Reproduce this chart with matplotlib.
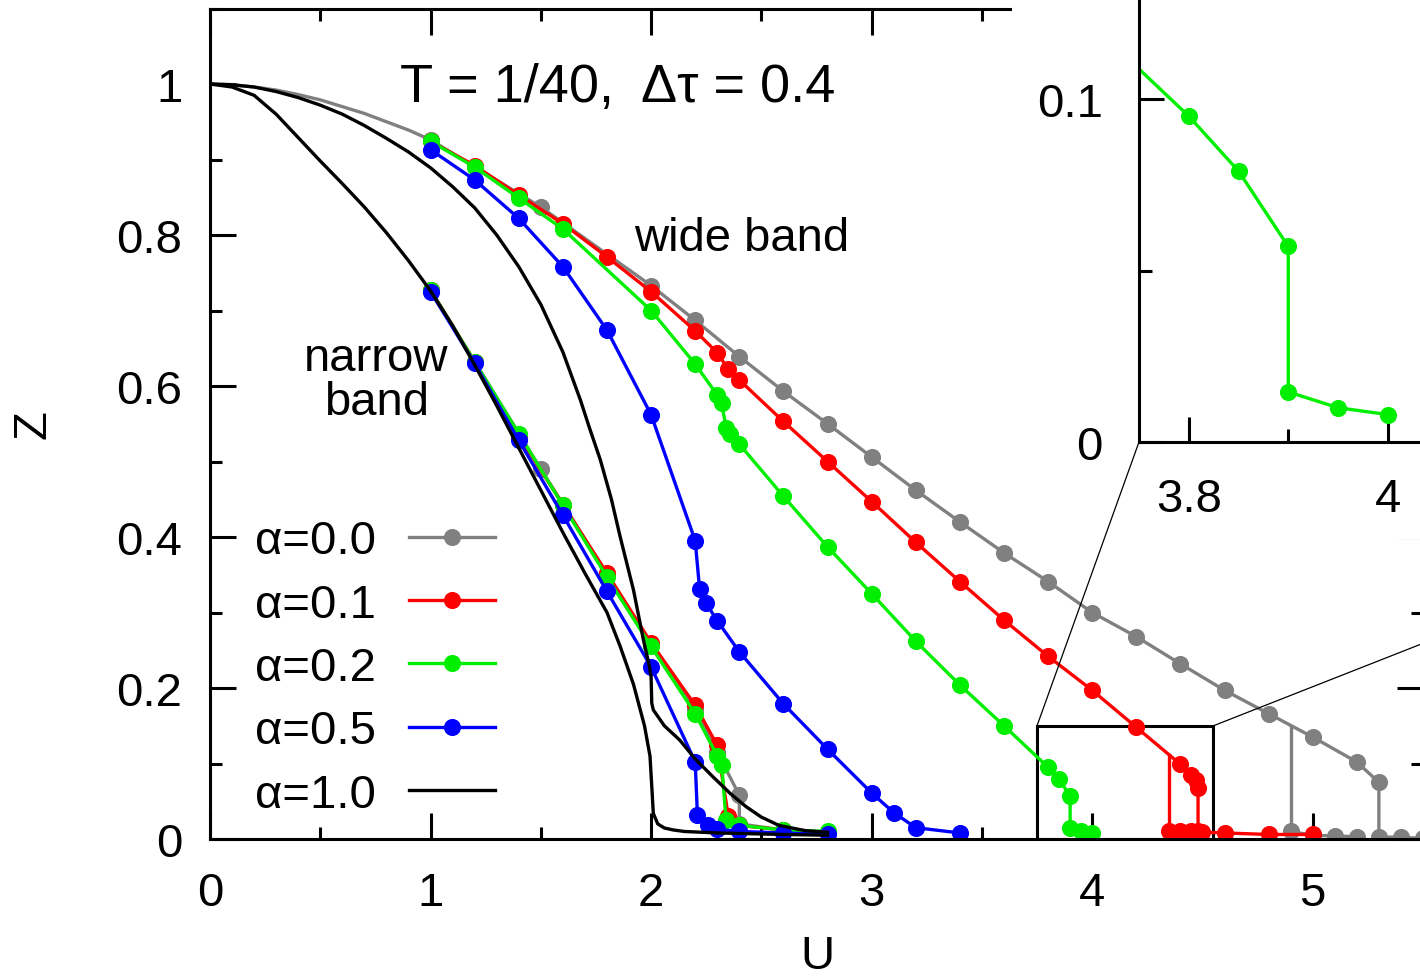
import matplotlib
matplotlib.use("Agg")
import matplotlib.pyplot as plt
from matplotlib.patches import Rectangle, ConnectionPatch
from matplotlib.ticker import MultipleLocator, FormatStrFormatter, FuncFormatter

plt.rcParams['font.family'] = ['Liberation Sans', 'DejaVu Sans']

# ---- data ----
# alpha = 0.0 (grey): smooth part below U=1, then markers
a00_low_u = [0.0, 0.1, 0.2, 0.3, 0.4, 0.5, 0.6, 0.7, 0.8, 0.9, 1.0]
a00_low_z = [1.0, 0.999, 0.996, 0.992, 0.986, 0.979, 0.970, 0.961, 0.950,
             0.939, 0.926]
a00_wide_u = [1.0, 1.5, 2.0, 2.2, 2.4, 2.6, 2.8, 3.0, 3.2, 3.4, 3.6, 3.8, 4.0,
              4.2, 4.4, 4.6, 4.8, 5.0, 5.2, 5.3, 5.3, 5.4, 5.5]
a00_wide_z = [0.926, 0.837, 0.733, 0.687, 0.639, 0.593, 0.550, 0.506, 0.462,
              0.420, 0.379, 0.341, 0.300, 0.268, 0.232, 0.197, 0.166, 0.135,
              0.102, 0.075, 0.003, 0.002, 0.001]
a00_ins_u = [5.2, 5.1, 5.0, 4.9]      # insulating branch (down sweep)
a00_ins_z = [0.003, 0.004, 0.005, 0.010]
a00_back_z = 0.150                    # where the 4.9 jump meets the metallic branch
a00_narrow_u = [1.0, 1.5, 2.0, 2.2, 2.3, 2.4, 2.4, 2.6, 2.8]
a00_narrow_z = [0.727, 0.490, 0.258, 0.172, 0.115, 0.058, 0.020, 0.012, 0.009]

# alpha = 0.1 (red)
a01_wide_u = [1.0, 1.2, 1.4, 1.6, 1.8, 2.0, 2.2, 2.3, 2.35, 2.4, 2.6, 2.8, 3.0,
              3.2, 3.4, 3.6, 3.8, 4.0, 4.2, 4.4, 4.45, 4.47, 4.48, 4.48, 4.5,
              4.6, 4.8, 5.0]
a01_wide_z = [0.924, 0.892, 0.853, 0.815, 0.771, 0.725, 0.673, 0.644, 0.622,
              0.608, 0.553, 0.500, 0.447, 0.393, 0.341, 0.290, 0.242, 0.197,
              0.148, 0.099, 0.085, 0.078, 0.068, 0.010, 0.009, 0.008, 0.006,
              0.006]
a01_ins_u = [4.45, 4.4, 4.35]
a01_ins_z = [0.010, 0.010, 0.011]
a01_back_z = 0.111
a01_narrow_u = [1.0, 1.2, 1.4, 1.6, 1.8, 2.0, 2.2, 2.3, 2.35, 2.4, 2.6, 2.8]
a01_narrow_z = [0.727, 0.632, 0.534, 0.443, 0.352, 0.260, 0.177, 0.124, 0.030,
                0.018, 0.012, 0.009]

# alpha = 0.2 (green)
a02_wide_u = [1.0, 1.2, 1.4, 1.6, 2.0, 2.2, 2.3, 2.32, 2.34, 2.36, 2.4, 2.6,
              2.8, 3.0, 3.2, 3.4, 3.6, 3.8, 3.85, 3.9, 3.9, 3.95, 4.0]
a02_wide_z = [0.924, 0.890, 0.849, 0.808, 0.700, 0.629, 0.588, 0.577, 0.545,
              0.537, 0.523, 0.454, 0.387, 0.325, 0.262, 0.204, 0.150, 0.095,
              0.079, 0.057, 0.0146, 0.010, 0.008]
a02_narrow_u = [1.0, 1.2, 1.4, 1.6, 1.8, 2.0, 2.2, 2.3, 2.32, 2.34, 2.4, 2.6, 2.8]
a02_narrow_z = [0.727, 0.632, 0.537, 0.442, 0.347, 0.255, 0.166, 0.110, 0.098,
                0.025, 0.018, 0.012, 0.010]

# alpha = 0.5 (blue)
a05_wide_u = [1.0, 1.2, 1.4, 1.6, 1.8, 2.0, 2.2, 2.22, 2.25, 2.3, 2.4, 2.6,
              2.8, 3.0, 3.1, 3.2, 3.4]
a05_wide_z = [0.913, 0.873, 0.822, 0.758, 0.674, 0.562, 0.395, 0.331, 0.312,
              0.289, 0.248, 0.179, 0.119, 0.061, 0.035, 0.015, 0.008]
a05_narrow_u = [1.0, 1.2, 1.4, 1.6, 1.8, 2.0, 2.2, 2.21, 2.26, 2.3, 2.4, 2.6, 2.8]
a05_narrow_z = [0.725, 0.630, 0.528, 0.429, 0.328, 0.228, 0.102, 0.032, 0.019,
                0.013, 0.010, 0.008, 0.006]

# alpha = 1.0 (black), lines only
a10_wide_u = [0.0, 0.1, 0.2, 0.3, 0.4, 0.5, 0.6, 0.7, 0.8, 0.9, 1.0, 1.1, 1.2,
              1.3, 1.4, 1.5, 1.6, 1.68, 1.72, 1.77, 1.82, 1.86, 1.92, 1.965,
              1.99, 2.0, 2.003, 2.01, 2.06, 2.13, 2.2, 2.28, 2.36, 2.43, 2.5,
              2.58, 2.7, 2.8]
a10_wide_z = [1.0, 0.999, 0.996, 0.990, 0.982, 0.972, 0.960, 0.945, 0.928,
              0.910, 0.889, 0.864, 0.836, 0.800, 0.758, 0.708, 0.645, 0.581,
              0.545, 0.502, 0.450, 0.400, 0.330, 0.264, 0.232, 0.215, 0.180,
              0.171, 0.150, 0.131, 0.106, 0.0825, 0.060, 0.043, 0.029, 0.018,
              0.011, 0.009]
a10_narrow_u = [0.0, 0.1, 0.2, 0.3, 0.4, 0.5, 0.6, 0.7, 0.8, 0.9, 1.0, 1.1,
                1.2, 1.3, 1.4, 1.5, 1.6, 1.7, 1.8, 1.86, 1.92, 1.97, 1.995,
                2.005, 2.01, 2.03, 2.06, 2.1, 2.15, 2.3, 2.6, 2.8]
a10_narrow_z = [1.0, 0.996, 0.985, 0.960, 0.929, 0.898, 0.868, 0.837, 0.803,
                0.766, 0.726, 0.680, 0.628, 0.574, 0.518, 0.462, 0.406, 0.352,
                0.300, 0.255, 0.205, 0.150, 0.110, 0.060, 0.034, 0.020, 0.0146,
                0.012, 0.010, 0.008, 0.006, 0.005]

labels = ['α=0.0', 'α=0.1', 'α=0.2', 'α=0.5', 'α=1.0']
colors = ['#808080', '#ff0000', '#00ee00', '#0000ff', '#000000']

LW = 2.4
MS = 11.3


def draw(a):
    """Draw every curve into axes a, return one handle per alpha."""
    kw = dict(lw=LW, marker='o', ms=MS)
    c = colors
    # alpha = 0.0
    a.plot(a00_low_u, a00_low_z, color=c[0], lw=LW)
    h0, = a.plot(a00_wide_u, a00_wide_z, color=c[0], **kw)
    a.plot(a00_ins_u, a00_ins_z, color=c[0], **kw)
    a.plot([a00_ins_u[-1], a00_ins_u[-1]], [a00_ins_z[-1], a00_back_z],
           color=c[0], lw=LW)
    a.plot(a00_narrow_u, a00_narrow_z, color=c[0], **kw)
    # alpha = 0.1
    h1, = a.plot(a01_wide_u, a01_wide_z, color=c[1], **kw)
    a.plot(a01_ins_u, a01_ins_z, color=c[1], **kw)
    a.plot([a01_ins_u[-1], a01_ins_u[-1]], [a01_ins_z[-1], a01_back_z],
           color=c[1], lw=LW)
    a.plot(a01_narrow_u, a01_narrow_z, color=c[1], **kw)
    # alpha = 0.2
    h2, = a.plot(a02_wide_u, a02_wide_z, color=c[2], **kw)
    a.plot(a02_narrow_u, a02_narrow_z, color=c[2], **kw)
    # alpha = 0.5
    h3, = a.plot(a05_wide_u, a05_wide_z, color=c[3], **kw)
    a.plot(a05_narrow_u, a05_narrow_z, color=c[3], **kw)
    # alpha = 1.0
    h4, = a.plot(a10_wide_u, a10_wide_z, color=c[4], lw=LW)
    a.plot(a10_narrow_u, a10_narrow_z, color=c[4], lw=LW)
    return [h0, h1, h2, h3, h4]


def style_ticks(a, maj, mino, pad_x, pad_y):
    a.tick_params(which='both', direction='in', top=True, right=True,
                  width=2.2, labelsize=34)
    a.tick_params(which='major', length=maj)
    a.tick_params(which='minor', length=mino)
    a.tick_params(axis='x', pad=pad_x)
    a.tick_params(axis='y', pad=pad_y)
    for s in a.spines.values():
        s.set_linewidth(2.2)
    a.xaxis.set_major_formatter(FormatStrFormatter('%g'))
    a.yaxis.set_major_formatter(FormatStrFormatter('%g'))


W, H = 1420, 979
fig = plt.figure(figsize=(W / 100, H / 100), dpi=100)

# main panel: U 0..5.5 (right edge just outside the picture), Z 0..1.1
ax = fig.add_axes([210 / W, (H - 840) / H, 1213 / W, 830.5 / H])
handles = draw(ax)
ax.set_xlim(0, 5.5)
ax.set_ylim(0, 1.1)
ax.xaxis.set_major_locator(MultipleLocator(1))
ax.xaxis.set_minor_locator(MultipleLocator(0.5))
ax.yaxis.set_major_locator(MultipleLocator(0.2))
ax.yaxis.set_minor_locator(MultipleLocator(0.1))
style_ticks(ax, 18.7, 8.9, 23, 20)

ax.set_xlabel('U', fontsize=34, va='center')
ax.set_ylabel('Z', fontsize=34, va='center')
ax.xaxis.set_label_coords((817 - 210) / 1213, (840 - 957) / 830.5)
ax.yaxis.set_label_coords((33 - 210) / 1213, (840 - 425) / 830.5)

ax.text(1.85, 0.977, 'T = 1/40,  Δτ = 0.4', fontsize=39, ha='center',
        va='baseline')
ax.text(2.41, 0.780, 'wide band', fontsize=34, ha='center', va='baseline')
ax.text(0.755, 0.608, 'narrow\nband', fontsize=34, ha='center', va='center',
        linespacing=1.0)

ax.legend(handles, labels, loc='center left',
          bbox_to_anchor=(255 / W, (H - 669) / H), bbox_transform=fig.transFigure,
          frameon=False, markerfirst=False, fontsize=34, handlelength=1.83,
          handletextpad=0.7, labelspacing=0.41, borderpad=0, borderaxespad=0)

# inset: zoom on U 3.75..4.55, Z 0..0.15 (extends past the picture edges)
ins_box = [1139 / W, (H - 443) / H, 796 / W, 514.5 / H]
axins = fig.add_axes(ins_box)
draw(axins)
axins.set_xlim(3.75, 4.55)
axins.set_ylim(0, 0.15)
axins.xaxis.set_major_locator(MultipleLocator(0.2))
axins.xaxis.set_minor_locator(MultipleLocator(0.1))
axins.yaxis.set_major_locator(MultipleLocator(0.1))
axins.yaxis.set_minor_locator(MultipleLocator(0.05))
style_ticks(axins, 18, 9.5, 25, 26)

# only label the inset ticks that fall inside the picture
x0, x1 = axins.get_xlim()
y0, y1 = axins.get_ylim()
u_edge = x0 + (1 - ins_box[0]) / ins_box[2] * (x1 - x0)
axins.xaxis.set_major_formatter(
    FuncFormatter(lambda v, p: f'{v:g}' if v <= u_edge else ''))

# white panel behind the inset and its tick labels
axins.add_artist(Rectangle((1012 / W, (H - 540) / H), 1, 1,
                           transform=fig.transFigure, facecolor='white',
                           edgecolor='none', zorder=0.5, clip_on=False))

# zoom box on the main panel and connector lines
ax.add_patch(Rectangle((x0, y0), x1 - x0, y1 - y0, fill=False,
                       edgecolor='black', lw=2.2, zorder=1.5))
for xx in (x0, x1):
    con = ConnectionPatch(xyA=(xx, y1), coordsA=ax.transData,
                          xyB=(xx, y0), coordsB=axins.transData,
                          color='black', lw=0.9)
    con.set_zorder(10)
    fig.add_artist(con)

fig.savefig('out.png', dpi=100)
